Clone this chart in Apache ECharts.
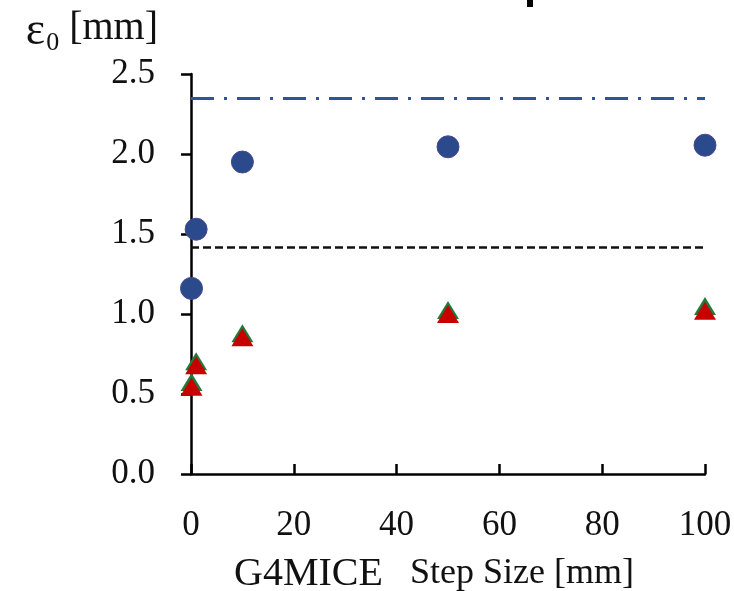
<!DOCTYPE html>
<html>
<head>
<meta charset="utf-8">
<script src="https://cdn.jsdelivr.net/npm/echarts@6/dist/echarts.min.js"></script>
<style>html,body{margin:0;padding:0;background:#fff}#c{width:734px;height:591px}</style>
</head>
<body>
<div id="c"></div>
<script>
// step sizes [mm]
var stepSizes = [0.1, 1, 10, 50, 100];
// emittance values [mm]
var circleVals = [1.16, 1.53, 1.95, 2.045, 2.055];
var greenVals = [0.575, 0.705, 0.88, 1.025, 1.05];
var redVals = [0.545, 0.68, 0.855, 1.0, 1.02];
// reference levels
var dashDotLevel = 2.355;
var dashedLevel = 1.415;
// axis ticks
var xTicks = [0, 20, 40, 60, 80, 100];
var yTicks = [0.0, 0.5, 1.0, 1.5, 2.0, 2.5];

function pairs(xs, ys) { return xs.map(function (x, i) { return [x, ys[i]]; }); }

var serif = "'Liberation Serif','Times New Roman',serif";
var chart = echarts.init(document.getElementById('c'), null, { renderer: 'canvas' });
chart.setOption({
  animation: false,
  backgroundColor: '#fff',
  grid: { left: 191, right: 29, top: 74, bottom: 117, outerBoundsMode: 'none', containLabel: false },
  xAxis: {
    type: 'value', min: xTicks[0], max: xTicks[xTicks.length - 1], interval: 20,
    name: '{a|G4MICE}{b|   Step Size [mm]}',
    nameLocation: 'middle', nameGap: 80,
    nameTextStyle: {
      padding: [0, 28, 0, 0],
      rich: {
        a: { fontFamily: serif, fontSize: 40, color: '#111', lineHeight: 40 },
        b: { fontFamily: serif, fontSize: 36, color: '#111', lineHeight: 40 }
      }
    },
    axisLine: { lineStyle: { color: '#000', width: 2.5 } },
    axisTick: { inside: true, length: 10, lineStyle: { color: '#000', width: 2.5 } },
    axisLabel: { fontFamily: serif, fontSize: 35, color: '#111', margin: 34, lineHeight: 35,
      formatter: function (v) { return String(v); } },
    splitLine: { show: false }
  },
  yAxis: {
    type: 'value', min: yTicks[0], max: yTicks[yTicks.length - 1], interval: 0.5,
    name: '{e|ε}{s|0}{t| [mm]}',
    nameLocation: 'end', nameGap: 23,
    nameTextStyle: {
      align: 'right', padding: [0, 33, 0, 0],
      rich: {
        e: { fontFamily: serif, fontSize: 46, color: '#111', lineHeight: 40, verticalAlign: 'top' },
        s: { fontFamily: serif, fontSize: 26, color: '#111', lineHeight: 24, verticalAlign: 'top', padding: [22, 0, 0, 1] },
        t: { fontFamily: serif, fontSize: 40, color: '#111', lineHeight: 40, verticalAlign: 'top' }
      }
    },
    axisLine: { show: true, lineStyle: { color: '#000', width: 2.5 } },
    axisTick: { show: true, inside: false, length: 10, lineStyle: { color: '#000', width: 2.5 } },
    axisLabel: { fontFamily: serif, fontSize: 35, color: '#111', margin: 36,
      formatter: function (v) { return v.toFixed(1); } },
    splitLine: { show: false }
  },
  series: [
    {
      type: 'scatter', name: 'circles', data: pairs(stepSizes, circleVals),
      symbol: 'circle', symbolSize: 22,
      itemStyle: { color: '#2B4A8B', borderColor: '#4B4A92', borderWidth: 1, opacity: 1 },
      markLine: {
        silent: true, symbol: 'none', label: { show: false },
        data: [
          { yAxis: dashDotLevel, lineStyle: { color: '#2F5597', width: 3, type: [23, 10, 3, 10] } },
          { yAxis: dashedLevel, lineStyle: { color: '#111', width: 2.5, type: [8, 4] } }
        ]
      },
      z: 3
    },
    {
      type: 'scatter', name: 'green', data: pairs(stepSizes, greenVals),
      symbol: 'triangle', symbolSize: [22, 18],
      itemStyle: { color: '#1E7B3C', opacity: 1 }, z: 4
    },
    {
      type: 'scatter', name: 'red', data: pairs(stepSizes, redVals),
      symbol: 'triangle', symbolSize: [22, 18],
      itemStyle: { color: '#C80000', opacity: 1 }, z: 5
    }
  ],
  graphic: [
    { type: 'rect', left: 527, top: 0, shape: { width: 6, height: 7 }, style: { fill: '#000' } }
  ]
});
</script>
</body>
</html>
